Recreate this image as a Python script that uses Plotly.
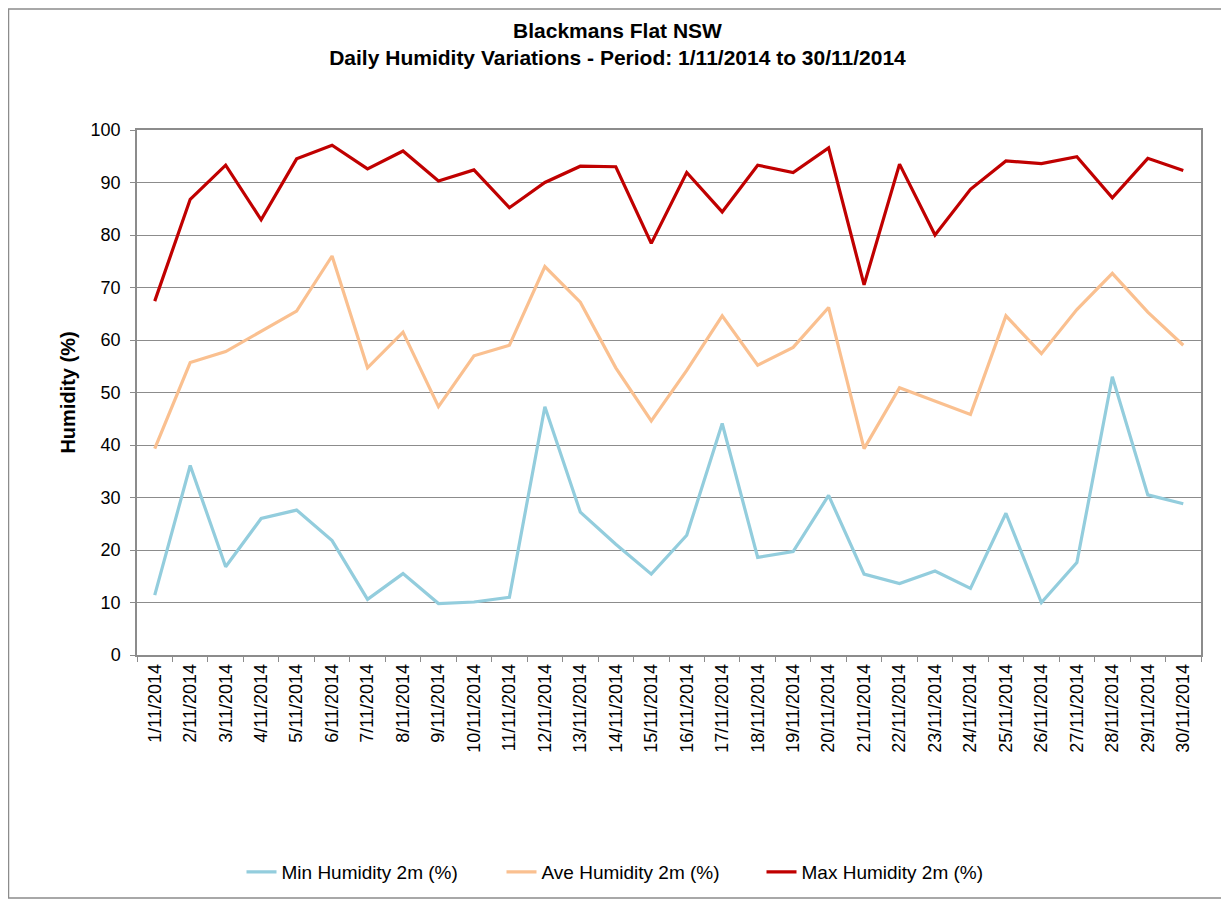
import plotly.graph_objects as go

dates = [f"{d}/11/2014" for d in range(1, 31)]

min_humidity = [11.4, 36.1, 16.8, 26.0, 27.6, 21.8, 10.6, 15.5, 9.8, 10.1,
                11.0, 47.3, 27.2, 21.1, 15.4, 22.8, 44.1, 18.6, 19.7, 30.4,
                15.4, 13.6, 16.0, 12.7, 27.0, 10.0, 17.6, 53.0, 30.5, 28.8]
ave_humidity = [39.3, 55.7, 57.8, 61.6, 65.5, 76.0, 54.7, 61.5, 47.3, 57.0,
                59.0, 74.0, 67.2, 54.7, 44.6, 54.2, 64.6, 55.2, 58.6, 66.2,
                39.3, 50.9, 48.4, 45.8, 64.6, 57.4, 65.8, 72.7, 65.3, 59.0]
max_humidity = [67.4, 86.8, 93.3, 82.9, 94.5, 97.1, 92.6, 96.0, 90.3, 92.4,
                85.2, 90.0, 93.1, 93.0, 78.4, 91.9, 84.4, 93.3, 91.9, 96.6,
                70.5, 93.5, 80.0, 88.7, 94.1, 93.6, 94.9, 87.1, 94.6, 92.3]

y_ticks = list(range(0, 101, 10))

FONT = "Arial, Liberation Sans, sans-serif"
GRID = "#8c8c8c"

fig = go.Figure()
fig.add_trace(go.Scatter(x=dates, y=min_humidity, mode="lines",
                         name="Min Humidity 2m (%)",
                         line=dict(color="#93CDDD", width=3.2)))
fig.add_trace(go.Scatter(x=dates, y=ave_humidity, mode="lines",
                         name="Ave Humidity 2m (%)",
                         line=dict(color="#FAC090", width=3.2)))
fig.add_trace(go.Scatter(x=dates, y=max_humidity, mode="lines",
                         name="Max Humidity 2m (%)",
                         line=dict(color="#C00000", width=3.2)))

# page body has an 8px margin, so the figure is offset by 8px
OFF = 8
W, H = 1219, 891
L, R, T, B = 137 - OFF, OFF + W - 1201, 130 - OFF, OFF + H - 655
pw, ph = W - L - R, H - T - B

fig.update_layout(
    width=W, height=H,
    margin=dict(l=L, r=R, t=T, b=B),
    paper_bgcolor="white", plot_bgcolor="white",
    font=dict(family=FONT, size=18, color="black"),
    title=dict(text="<b>Blackmans Flat NSW<br>Daily Humidity Variations - Period: 1/11/2014 to 30/11/2014</b>",
               x=0.5, xref="container", xanchor="center",
               y=1 - 30 / H, yref="container", yanchor="middle",
               font=dict(family=FONT, size=21, color="black")),
    xaxis=dict(type="category", range=[-0.5, 29.5], tickangle=-90,
               showline=True, linecolor=GRID, linewidth=1.5, mirror=True,
               ticks="outside", tickson="boundaries", ticklen=5, tickcolor=GRID,
               showgrid=False, tickfont=dict(size=18, family=FONT)),
    yaxis=dict(range=[0, 100], tickvals=y_ticks,
               showline=True, linecolor=GRID, linewidth=1.5, mirror=True,
               ticks="outside", ticklen=5, tickcolor=GRID, ticklabelstandoff=6,
               showgrid=True, gridcolor=GRID, gridwidth=1,
               tickfont=dict(size=18, family=FONT),
               title=dict(text="<b>Humidity (%)</b>", standoff=10,
                          font=dict(size=20, family=FONT))),
    showlegend=True,
    legend=dict(orientation="h", xref="container", yref="container",
                x=0.5 + 14 / W, xanchor="center", y=1 - (872 - OFF) / H, yanchor="middle",
                entrywidth=215, entrywidthmode="pixels",
                font=dict(size=19, family=FONT)),
    shapes=[dict(type="rect", xref="paper", yref="paper",
                 x0=-L / pw + 0.5 / pw, x1=(W - L - 1) / pw,
                 y0=-(B - 1) / ph, y1=(H - B - 1) / ph,
                 line=dict(color="#8c8c8c", width=1.5), fillcolor="rgba(0,0,0,0)",
                 layer="below")],
)

fig.write_html("out.html")
